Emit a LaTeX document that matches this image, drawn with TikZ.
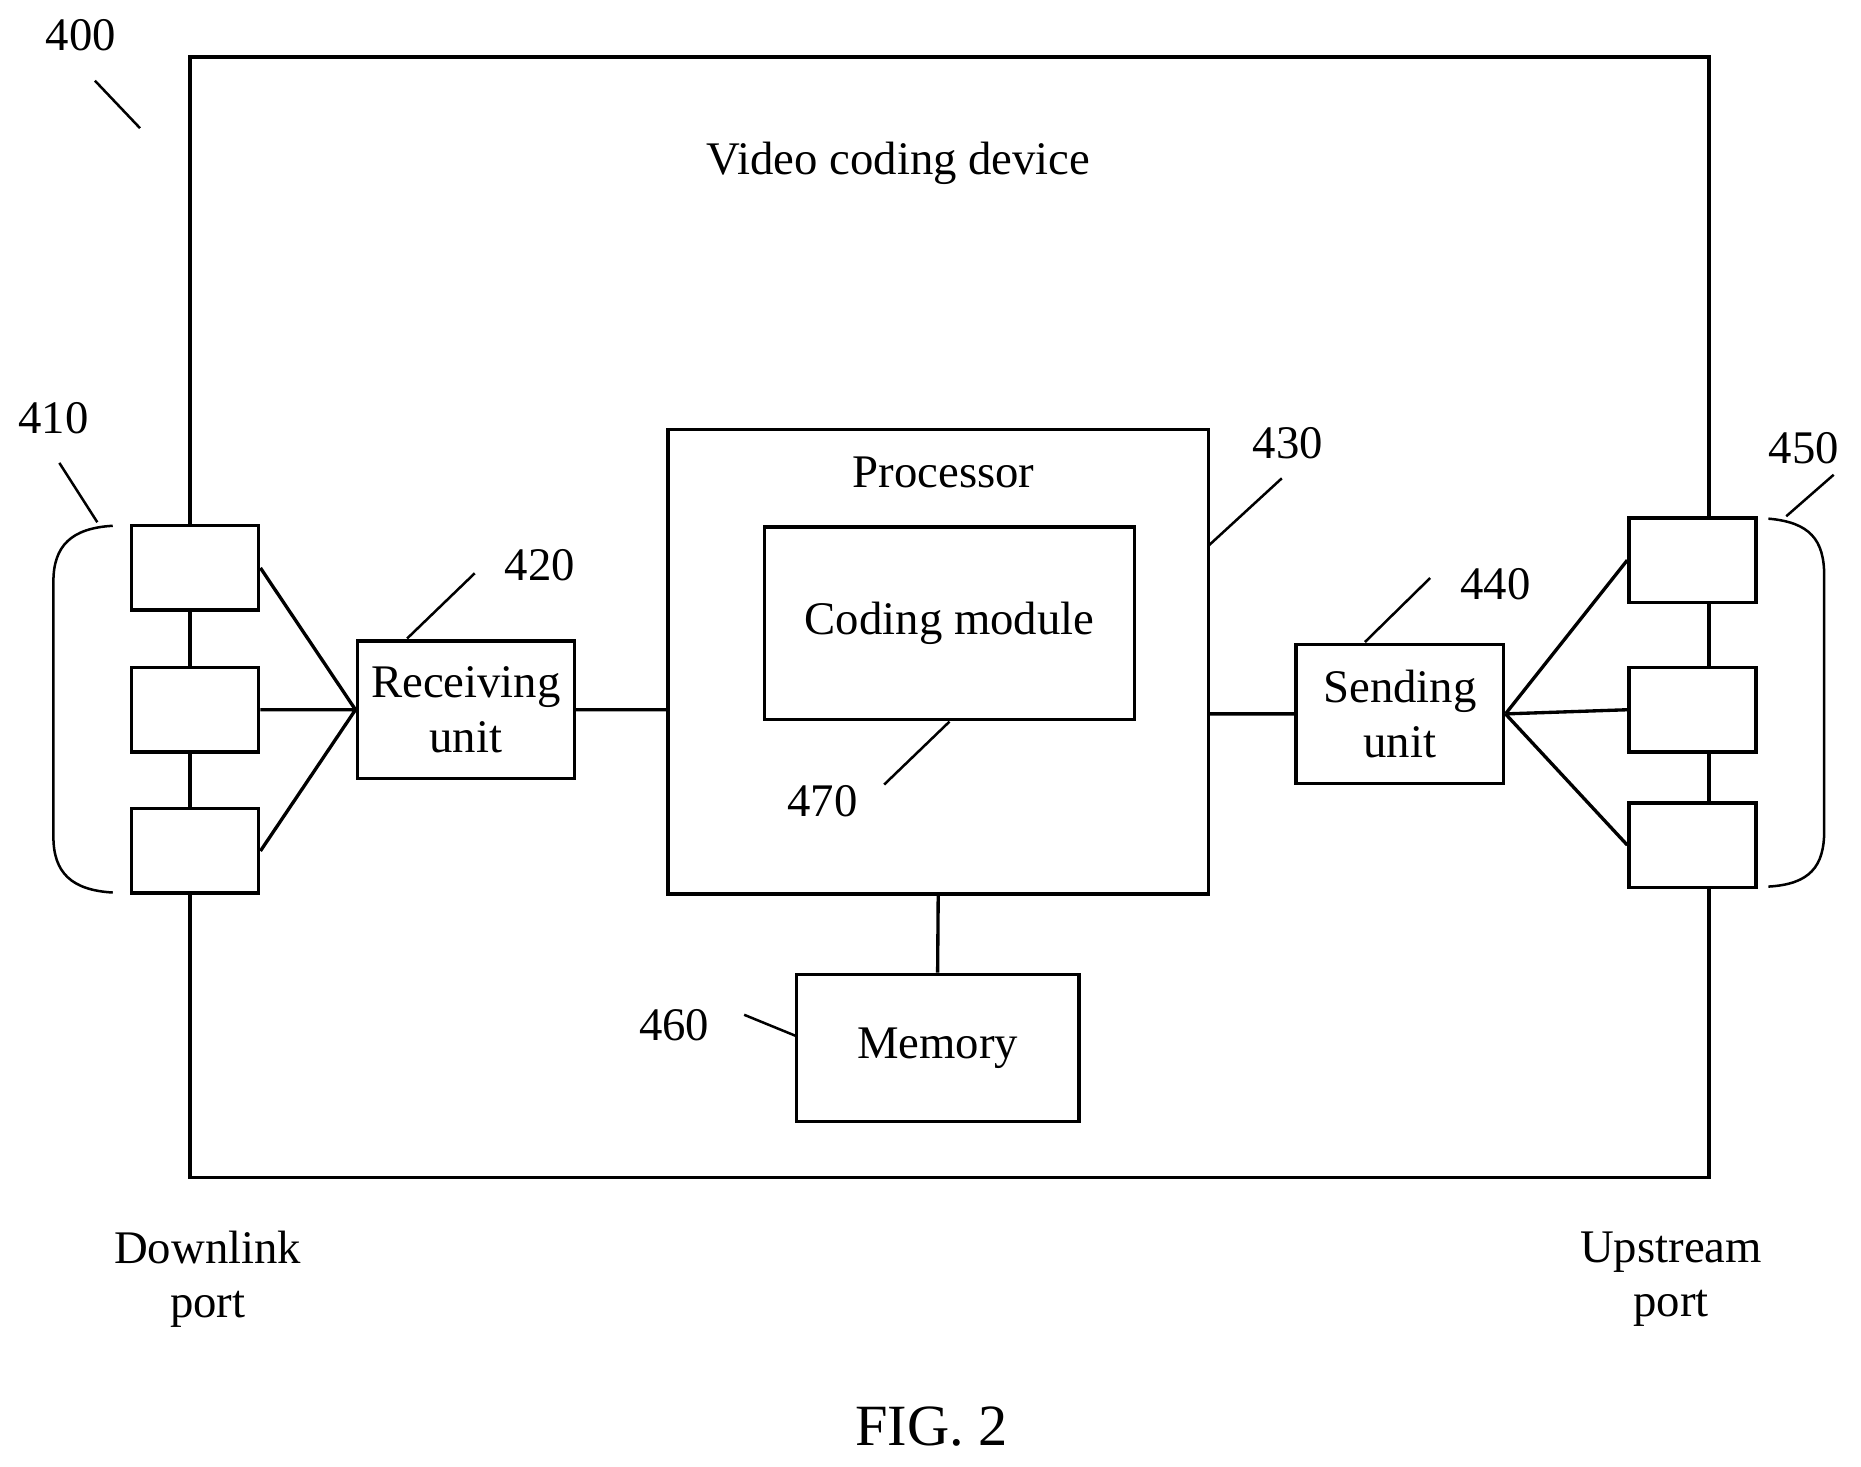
\documentclass[tikz,border=0pt]{standalone}
\usepackage{fontspec}
\setmainfont{Liberation Serif}
\usetikzlibrary{positioning}
\tikzset{
  blk/.style={draw,thick,fill=white,inner sep=0pt,align=center,font=\fontsize{11.2}{13}\selectfont},
  port/.style={draw,thick,fill=white,minimum width=1.07cm,minimum height=0.71cm,inner sep=0pt},
  lbl/.style={font=\fontsize{11.2}{13}\selectfont,inner sep=0pt}
}
\begin{document}
\begin{tikzpicture}[x=0.01cm,y=-0.01cm,thick]
    \useasboundingbox (0,0) rectangle (1568,1236);
    % outer device
    \draw (160,48) rectangle (1440,992);
    \node[lbl] (title) at (757,138) {Video coding device};
    \node[lbl] (n400) at (68,30) {400};
    \draw[semithick] (80,68) -- (118,108);
    % ports
    \node[port] (d1) at (164.5,478.5) {};
    \node[port] (d2) at (164.5,598) {};
    \node[port] (d3) at (164.5,717) {};
    \node[port] (u1) at (1426,472) {};
    \node[port] (u2) at (1426,598) {};
    \node[port] (u3) at (1426,712) {};
    % braces
    \draw[semithick] (95,443) .. controls (60,445) and (45,460) .. (45,490) -- (45,705) .. controls (45,735) and (60,750) .. (95,752);
    \draw[semithick] (1490,437) .. controls (1525,440) and (1537,455) .. (1537,485) -- (1537,700) .. controls (1537,730) and (1525,745) .. (1490,747);
    \node[lbl] (n410) at (45,352) {410};
    \draw[semithick] (50,390) -- (82,440);
    \node[lbl] (n450) at (1520,378) {450};
    \draw[semithick] (1505,435) -- (1545,400);
    % units
    \node[blk,minimum width=1.83cm,minimum height=1.16cm] (rx) at (392.5,598) {Receiving\\unit};
    \node[blk,minimum width=1.75cm,minimum height=1.17cm] (tx) at (1179.5,601.5) {Sending\\unit};
    \node[blk,minimum width=4.55cm,minimum height=3.91cm] (cpu) at (790.5,557.5) {};
    \node[lbl] (cpul) at (795,398) {Processor};
    \node[blk,minimum width=3.12cm,minimum height=1.62cm] (cod) at (800,525) {Coding module};
    \node[blk,minimum width=2.38cm,minimum height=1.24cm] (mem) at (790,883) {Memory};
    \node[lbl] (n420) at (455,476) {420};
    \draw[semithick] (343,538) -- (400,483);
    \node[lbl] (n430) at (1085,373) {430};
    \draw[semithick] (1018,460) -- (1080,403);
    \node[lbl] (n440) at (1260,492) {440};
    \draw[semithick] (1150,541) -- (1205,487);
    \node[lbl] (n470) at (693,675) {470};
    \draw[semithick] (745,661) -- (800,608);
    \node[lbl] (n460) at (568,864) {460};
    \draw[semithick] (627,855) -- (671,873);
    % connections
    \path[draw]
     (d1.east) -- (rx.west)
     (d2.east) -- (rx.west)
     (d3.east) -- (rx.west)
     (tx.east) -- (u1.west)
     (tx.east) -- (u2.west)
     (tx.east) -- (u3.west)
     (rx.east) -- (rx.east -| cpu.west)
     (tx.west) -- (tx.west -| cpu.east)
     (cpu.south) -- (mem.north);
    \node[lbl,align=center] (down) at (175,1078) {Downlink\\port};
    \node[lbl,align=center] (up) at (1408,1078) {Upstream\\port};
    \node[lbl,font=\fontsize{14}{16}\selectfont] (fig) at (785,1202) {FIG. 2};
\end{tikzpicture}
\end{document}
